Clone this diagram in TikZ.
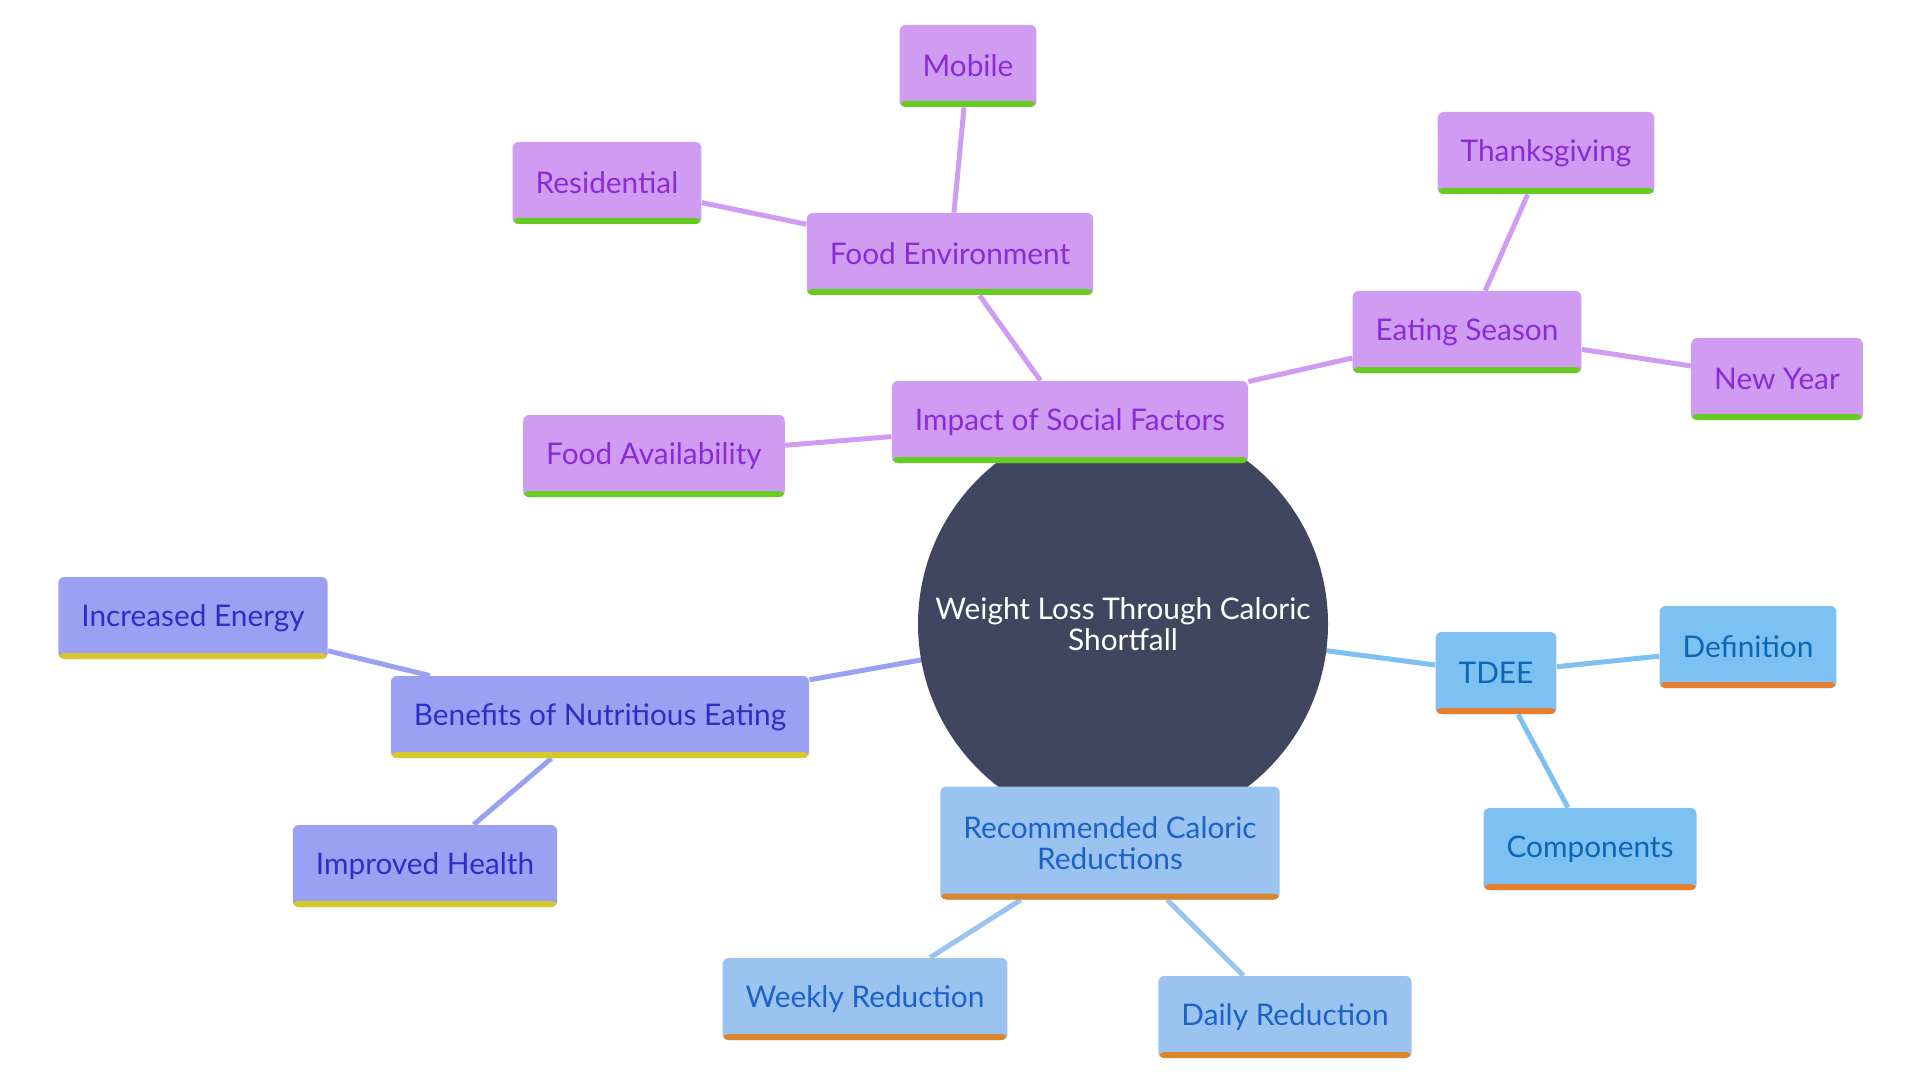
\documentclass[tikz,border=0pt]{standalone}
\usepackage{fontspec}
\setmainfont{Lato}
\usepackage{xcolor}
\usepackage{tikz}
\usetikzlibrary{backgrounds}

\definecolor{rootfill}{RGB}{65,70,96}
\definecolor{socfill}{RGB}{207,156,242}
\definecolor{soctext}{RGB}{139,43,214}
\definecolor{socbar}{RGB}{102,204,34}
\definecolor{benfill}{RGB}{155,161,242}
\definecolor{bentext}{RGB}{42,48,196}
\definecolor{benbar}{RGB}{214,200,38}
\definecolor{tdeefill}{RGB}{125,192,242}
\definecolor{tdeetext}{RGB}{11,102,181}
\definecolor{tdeebar}{RGB}{228,127,48}
\definecolor{recfill}{RGB}{155,195,239}
\definecolor{rectext}{RGB}{29,98,201}
\definecolor{recbar}{RGB}{217,133,43}

\tikzset{
  topic/.style n args={3}{rectangle, rounded corners=3pt, fill=#1, text=#2,
    minimum height=41pt, inner xsep=11.5pt, align=center,
    font=\fontsize{14.9}{15.5}\selectfont,
    path picture={\fill[#3] (path picture bounding box.south west)
      rectangle ([yshift=3pt]path picture bounding box.south east);}},
  social/.style={topic={socfill}{soctext}{socbar}},
  benefit/.style={topic={benfill}{bentext}{benbar}},
  tdee/.style={topic={tdeefill}{tdeetext}{tdeebar}},
  reduce/.style={topic={recfill}{rectext}{recbar}},
  link/.style={line width=2.5pt, draw=#1},
}

\begin{document}
\begin{tikzpicture}[x=0.5pt, y=-0.5pt]
    \useasboundingbox (0,0) rectangle (1920,1080);
    % centre
    \node[circle, fill=rootfill, text=white, minimum size=205pt, align=center,
      font=\fontsize{14.9}{15.5}\selectfont] (root) at (1123,624)
      {Weight Loss Through Caloric\\Shortfall};

    % social factors
    \node[social] (impact) at (1070,422) {Impact of Social Factors};
    \node[social] (foodenv) at (950,254) {Food Environment};
    \node[social] (mobile) at (968,66) {Mobile};
    \node[social] (resid) at (607,183) {Residential};
    \node[social] (avail) at (654,456) {Food Availability};
    \node[social] (season) at (1467,332) {Eating Season};
    \node[social] (thanks) at (1546,153) {Thanksgiving};
    \node[social] (newyear) at (1777,379) {New Year};

    % benefits
    \node[benefit] (benefits) at (600,717) {Benefits of Nutritious Eating};
    \node[benefit] (energy) at (193,618) {Increased Energy};
    \node[benefit] (health) at (425,866) {Improved Health};

    % tdee
    \node[tdee] (tdee) at (1496,673) {TDEE};
    \node[tdee] (defn) at (1748,647) {Definition};
    \node[tdee] (comp) at (1590,849) {Components};

    % reductions
    \node[reduce, minimum height=56.5pt] (recom) at (1110,843) {Recommended Caloric\\Reductions};
    \node[reduce] (weekly) at (865,999) {Weekly Reduction};
    \node[reduce] (daily) at (1285,1017) {Daily Reduction};

    \begin{pgfonlayer}{background}
    \draw[link=socfill] (root.center) -- (impact.center);
    \draw[link=socfill] (impact) -- (foodenv);
    \draw[link=socfill] (foodenv) -- (mobile);
    \draw[link=socfill] (foodenv) -- (resid);
    \draw[link=socfill] (impact) -- (avail);
    \draw[link=socfill] (impact) -- (season);
    \draw[link=socfill] (season) -- (thanks);
    \draw[link=socfill] (season) -- (newyear);
    \draw[link=benfill] (root.center) -- (benefits);
    \draw[link=benfill] (benefits) -- (energy);
    \draw[link=benfill] (benefits) -- (health);
    \draw[link=tdeefill] (root.center) -- (tdee);
    \draw[link=tdeefill] (tdee) -- (defn);
    \draw[link=tdeefill] (tdee) -- (comp);
    \draw[link=recfill] (root.center) -- (recom.center);
    \draw[link=recfill] (recom) -- (weekly);
    \draw[link=recfill] (recom) -- (daily);
    \end{pgfonlayer}
\end{tikzpicture}
\end{document}
